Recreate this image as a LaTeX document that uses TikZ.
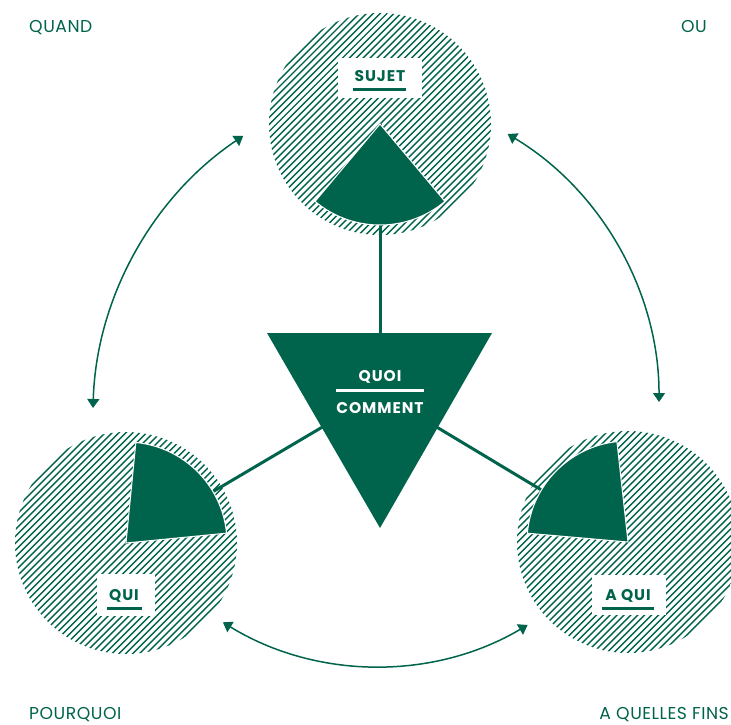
\documentclass[tikz,border=0pt]{standalone}
\usepackage{fontspec}
\setmainfont{Poppins}
\newfontfamily\tagfont[LetterSpace=6]{Poppins}
\newfontfamily\cornerfont[LetterSpace=3]{Poppins}
\usetikzlibrary{arrows.meta}
\definecolor{pine}{HTML}{00634B}

\begin{document}
\begin{tikzpicture}[x=1pt,y=-1pt,
  corner/.style={text=pine, font=\cornerfont\fontsize{17.2}{20}\selectfont, inner sep=0pt},
  tagtext/.style={text=pine, font=\tagfont\bfseries\fontsize{15.5}{18}\selectfont, inner sep=0pt, anchor=base},
  tagbox/.style={fill=white, inner sep=0pt},
  ink/.style={fill=pine},
  wedge/.style={fill=pine, draw=white, line width=1pt},
  spoke/.style={draw=pine, line width=3pt},
  uline/.style={draw=pine, line width=3pt},
  hatch/.style={draw=pine, line width=1.4pt},
  hub/.style={circle, inner sep=0pt, minimum size=222pt},
  cycle arrow/.style={draw=pine, line width=1.5pt,
    {Triangle[length=9pt,width=12pt]}-{Triangle[length=9pt,width=12pt]}},
]
\useasboundingbox (0,0) rectangle (731,724);

% corner words
\node[corner, anchor=base west] (quand) at (29,32) {QUAND};
\node[corner, anchor=base east] (ou) at (707,32) {OU};
\node[corner, anchor=base west] (pourquoi) at (29,719) {POURQUOI};
\node[corner, anchor=base east] (fins) at (729,719) {A QUELLES FINS};

% the three circles
\node[hub] (sujet) at (380,124) {};
\node[hub] (qui) at (126,543) {};
\node[hub] (aqui) at (628,542) {};

% diagonal hatching inside each circle
\foreach \cx/\cy in {380/124, 126/543, 628/542} {
  \begin{scope}
    \clip (\cx,\cy) circle[radius=111];
    \foreach \k in {-25,...,25}
      \draw[hatch] (\cx+\k*6.9-130,\cy+130) -- (\cx+\k*6.9+130,\cy-130);
  \end{scope}
}

% spokes from the triangle to the circles
\coordinate (hubpt) at (380,393);
\draw[spoke] (hubpt) -- (sujet.center);
\draw[spoke] (hubpt) -- (qui.center);
\draw[spoke] (hubpt) -- (aqui.center);

% dark wedges
\fill[wedge] (sujet.center) -- ++(50:101) arc[start angle=50, end angle=130, radius=101] -- cycle;
\fill[wedge] (qui.center) -- ++(275.6:101) arc[start angle=275.6, end angle=354.4, radius=101] -- cycle;
\fill[wedge] (aqui.center) -- ++(185:101) arc[start angle=185, end angle=263.7, radius=101] -- cycle;

% central triangle
\coordinate (tl) at (267,333);
\coordinate (tr) at (492,333);
\coordinate (tb) at (380,528);
\fill[ink] (tl) -- (tr) -- (tb) -- cycle;
\node[tagtext, text=white] (quoi) at (380,381) {QUOI};
\node[tagtext, text=white] (comment) at (380,413) {COMMENT};
\draw[draw=white, line width=3pt] (336,390) -- (424,390);

% labels on the circles
\node[tagbox, minimum width=84pt, minimum height=40pt] (sujetbox) at (380,78) {};
\node[tagtext] (sujettxt) at (380,81) {SUJET};
\draw[uline] (353,89) -- (406,89);

\node[tagbox, minimum width=58pt, minimum height=42pt] (quibox) at (126,595) {};
\node[tagtext] (quitxt) at (124,600) {QUI};
\draw[uline] (107,608) -- (142,608);

\node[tagbox, minimum width=74pt, minimum height=40pt] (aquibox) at (629,595) {};
\node[tagtext] (aquitxt) at (628,600) {A QUI};
\draw[uline] (602,608) -- (654,608);

% double arrows between the circles
\coordinate (la) at (93,408);
\coordinate (ra) at (507.7,134);
\coordinate (ba) at (222.9,622.3);
\draw[cycle arrow] (la) arc[start angle=181.7, end angle=236.1, radius=340];
\draw[cycle arrow] (ra) arc[start angle=301.1, end angle=360, radius=313];
\draw[cycle arrow] (ba) arc[start angle=121.6, end angle=59.4, radius=295];
\end{tikzpicture}
\end{document}
